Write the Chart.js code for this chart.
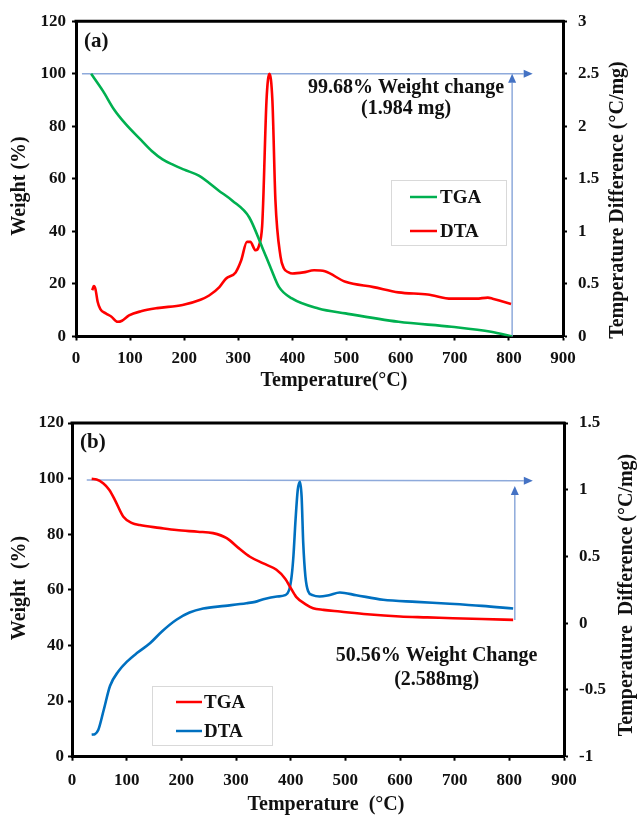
<!DOCTYPE html>
<html>
<head>
<meta charset="utf-8">
<script src="https://cdn.jsdelivr.net/npm/chart.js@4.4.1/dist/chart.umd.min.js"></script>
<style>
  body { margin: 0; background: #fff; width: 637px; height: 817px; overflow: hidden; }
  canvas { position: absolute; left: 0; }
  #chartA { top: 0; }
  #chartB { top: 400px; }
</style>
</head>
<body>
<canvas id="chartA" width="637" height="400"></canvas>
<canvas id="chartB" width="637" height="417"></canvas>
<script>
// axis ranges [min, max, step]
const tempRange = [0, 900, 100];
const weightRange = [0, 120, 20];
const dtaRangeA = [0, 3, 0.5];
const dtaRangeB = [-1, 1.5, 0.5];

// ---- panel (a) ----
const tempA_tga = [28, 50, 70, 92, 120, 140, 160, 180, 200, 227, 264, 289, 320, 344, 360, 375, 399, 448, 498, 596, 694, 767, 806];
const weightA = [100, 93.4, 86.5, 80.8, 74.8, 70.6, 67.4, 65.3, 63.5, 61.2, 55.5, 51.7, 45.4, 34, 26, 18.9, 14.5, 10.7, 8.8, 5.6, 3.7, 1.8, 0];

const tempA_dta = [30, 33, 36, 40, 45, 55, 65, 77, 85, 98, 120, 150, 197, 230, 246, 265, 277, 295, 305, 316, 322, 332, 338, 344,
  346, 352, 357.5, 363, 368.5, 378, 384, 393, 400, 420, 440, 460, 498, 550, 596, 650, 694, 740, 761, 770, 790, 804];
const dtaA = [0.44, 0.48, 0.45, 0.33, 0.26, 0.22, 0.19, 0.14, 0.15, 0.2, 0.24, 0.27, 0.3, 0.35, 0.39, 0.47, 0.55, 0.61, 0.72, 0.9, 0.9, 0.82, 0.86, 1.05,
  1.29, 2.24, 2.5, 2.24, 1.3, 0.76, 0.65, 0.61, 0.6, 0.61, 0.63, 0.62, 0.52, 0.47, 0.42, 0.4, 0.36, 0.36, 0.37, 0.36, 0.33, 0.31];

// ---- panel (b) ----
const tempB_tga = [36, 45, 57, 68, 78.6, 94, 110, 124, 160, 191, 230, 258, 283, 305, 325.5, 350, 374, 390, 398.5, 410, 429, 441, 460, 490, 540, 600, 650, 697, 750, 807];
const weightB = [99.9, 99.7, 98.3, 96, 92.3, 86.3, 84, 83.3, 82.3, 81.5, 80.9, 80.4, 78.6, 75, 71.9, 69.5, 67.2, 64, 61.2, 57.5, 54.6, 53.4, 52.8, 52.2, 51.2, 50.4, 50.1, 49.8, 49.5, 49.2];

const tempB_dta = [36, 42, 48, 58, 69.5, 85, 100, 120, 142.6, 165, 191, 215, 240, 280, 319, 335, 350, 375, 390, 398, 402, 405, 409, 413, 417,
  420, 423, 427, 432, 440, 453, 470, 490, 520, 569, 630, 691, 750, 807];
const dtaB = [-0.835, -0.83, -0.8, -0.65, -0.47, -0.36, -0.29, -0.22, -0.15, -0.06, 0.026, 0.08, 0.11, 0.13, 0.15, 0.16, 0.18, 0.2, 0.21, 0.26, 0.36, 0.5, 0.78, 1.0, 1.06,
  0.95, 0.6, 0.35, 0.24, 0.21, 0.2, 0.21, 0.23, 0.21, 0.176, 0.16, 0.146, 0.13, 0.11];

// weight-change markers, [x1, y1, x2, y2] in temperature / weight units
const arrowsA = [[11, 100, 844, 100], [806, 0, 806, 100]];
const arrowsB = [[27, 99.5, 843, 99.2], [810, 49.2, 810, 97.3]];

// notes, [text, temperature, weight]
const notesA = [["99.68% Weight change", 610, 94.6], ["(1.984 mg)", 610, 86.6]];
const notesB = [["50.56% Weight Change", 667, 36.2], ["(2.588mg)", 667, 27.6]];

const SERIF = "'Liberation Serif', 'Times New Roman', serif";
const INK = "#111";

const toPoints = (xs, ys) => xs.map((x, i) => ({ x: x, y: ys[i] }));
const tickLabel = (v) => String(Math.round(v * 10) / 10);

// draws the frame top, arrows, notes, axis titles, the panel letter and the legend box
const decor = {
  id: "decor",
  beforeDatasetsDraw(chart, args, o) {
    const { ctx } = chart;
    const sx = chart.scales.x, sy = chart.scales.y;
    ctx.save();
    o.arrows.forEach(([x1, y1, x2, y2]) => {
      const px1 = sx.getPixelForValue(x1), py1 = sy.getPixelForValue(y1);
      const px2 = sx.getPixelForValue(x2), py2 = sy.getPixelForValue(y2);
      const ang = Math.atan2(py2 - py1, px2 - px1);
      const hl = 9, hw = 4;
      const bx = px2 - hl * Math.cos(ang), by = py2 - hl * Math.sin(ang);
      ctx.strokeStyle = "#8eaadb";
      ctx.lineWidth = 1.5;
      ctx.beginPath();
      ctx.moveTo(px1, py1);
      ctx.lineTo(bx, by);
      ctx.stroke();
      ctx.fillStyle = "#4472c4";
      ctx.beginPath();
      ctx.moveTo(px2, py2);
      ctx.lineTo(bx + hw * Math.sin(ang), by - hw * Math.cos(ang));
      ctx.lineTo(bx - hw * Math.sin(ang), by + hw * Math.cos(ang));
      ctx.closePath();
      ctx.fill();
    });
    ctx.restore();
  },
  afterDraw(chart, args, o) {
    const { ctx, chartArea: ca } = chart;
    const sx = chart.scales.x, sy = chart.scales.y;
    ctx.save();
    // top edge of the box
    ctx.strokeStyle = "#000";
    ctx.lineWidth = 3;
    ctx.beginPath();
    ctx.moveTo(ca.left - 1.5, ca.top);
    ctx.lineTo(ca.right + 1.5, ca.top);
    ctx.stroke();

    ctx.fillStyle = INK;
    ctx.textBaseline = "middle";
    // panel letter
    ctx.font = "bold 21px " + SERIF;
    ctx.textAlign = "left";
    ctx.fillText(o.panel, ca.left + 8, ca.top + 20);
    // notes
    ctx.font = "bold 20px " + SERIF;
    ctx.textAlign = "center";
    o.notes.forEach(([t, x, y]) => {
      ctx.fillText(t, sx.getPixelForValue(x), sy.getPixelForValue(y));
    });
    // axis titles
    ctx.font = "bold 20px " + SERIF;
    const T = o.titles;
    ctx.fillText(T.x[0], T.x[1], T.x[2]);
    [T.left, T.right].forEach(([t, x, y]) => {
      ctx.save();
      ctx.translate(x, y);
      ctx.rotate(-Math.PI / 2);
      ctx.fillText(t, 0, 0);
      ctx.restore();
    });
    // legend
    const L = o.legend;
    ctx.fillStyle = "#fff";
    ctx.fillRect(L.x, L.y, L.w, L.h);
    ctx.strokeStyle = "#d9d9d9";
    ctx.lineWidth = 1;
    ctx.strokeRect(L.x + 0.5, L.y + 0.5, L.w, L.h);
    ctx.font = "bold 19px " + SERIF;
    ctx.textAlign = "left";
    chart.data.datasets.forEach((ds, i) => {
      const ry = L.rows[i];
      ctx.strokeStyle = ds.borderColor;
      ctx.lineWidth = 2.5;
      ctx.beginPath();
      ctx.moveTo(L.line[0], ry);
      ctx.lineTo(L.line[1], ry);
      ctx.stroke();
      ctx.fillStyle = INK;
      ctx.fillText(ds.label, L.textX, ry + 1);
    });
    ctx.restore();
  }
};

function makeScales(s) {
  const tickFont = { family: SERIF, size: 17, weight: "bold" };
  const grid = { display: true, drawOnChartArea: false, tickLength: 4, tickWidth: 2, tickColor: "#000" };
  const border = { display: true, width: 3, color: "#000" };
  return {
    x: {
      type: "linear", position: "bottom",
      min: tempRange[0], max: tempRange[1],
      ticks: { stepSize: tempRange[2], font: tickFont, color: INK, padding: s.xPad, maxRotation: 0 },
      grid: grid, border: border,
      afterFit: (sc) => { sc.height = s.xHeight; }
    },
    y: {
      position: "left",
      min: weightRange[0], max: weightRange[1],
      ticks: { stepSize: weightRange[2], font: tickFont, color: INK, padding: s.yPad },
      grid: grid, border: border,
      afterFit: (sc) => { sc.width = s.yWidth; }
    },
    y1: {
      position: "right",
      min: s.dtaRange[0], max: s.dtaRange[1],
      ticks: { stepSize: s.dtaRange[2], font: tickFont, color: INK, padding: 11, callback: tickLabel },
      grid: grid, border: border,
      afterFit: (sc) => { sc.width = s.y1Width; }
    }
  };
}

function lineSet(label, xs, ys, color, axis) {
  return {
    label: label,
    data: toPoints(xs, ys),
    borderColor: color,
    backgroundColor: color,
    borderWidth: 2.6,
    pointRadius: 0,
    fill: false,
    cubicInterpolationMode: "monotone",
    yAxisID: axis
  };
}

new Chart(document.getElementById("chartA"), {
  type: "line",
  data: {
    datasets: [
      lineSet("TGA", tempA_tga, weightA, "#00b050", "y"),
      lineSet("DTA", tempA_dta, dtaA, "#ff0000", "y1")
    ]
  },
  options: {
    responsive: false,
    animation: false,
    layout: { padding: { top: 20, left: 0, right: 0, bottom: 0 } },
    plugins: {
      legend: { display: false },
      tooltip: { enabled: false },
      decor: {
        panel: "(a)",
        arrows: arrowsA,
        notes: notesA,
        titles: {
          x: ["Temperature(°C)", 334, 381],
          left: ["Weight (%)", 20, 186],
          right: ["Temperature Difference (°C/mg)", 618, 200]
        },
        legend: { x: 391, y: 180, w: 115, h: 65, rows: [197, 231], line: [410, 437], textX: 440 }
      }
    },
    scales: makeScales({
      xPad: 8, xHeight: 63.5,
      yPad: 6, yWidth: 76, y1Width: 74, dtaRange: dtaRangeA
    })
  },
  plugins: [decor]
});

new Chart(document.getElementById("chartB"), {
  type: "line",
  data: {
    datasets: [
      lineSet("TGA", tempB_tga, weightB, "#ff0000", "y"),
      lineSet("DTA", tempB_dta, dtaB, "#0070c0", "y1")
    ]
  },
  options: {
    responsive: false,
    animation: false,
    layout: { padding: { top: 23, left: 0, right: 0, bottom: 0 } },
    plugins: {
      legend: { display: false },
      tooltip: { enabled: false },
      decor: {
        panel: "(b)",
        arrows: arrowsB,
        notes: notesB,
        titles: {
          x: ["Temperature  (°C)", 326, 405],
          left: ["Weight  (%)", 20, 188],
          right: ["Temperature  Difference (°C/mg)", 627, 195]
        },
        legend: { x: 152, y: 286, w: 120, h: 59, rows: [302, 331], line: [176, 202], textX: 204 }
      }
    },
    scales: makeScales({
      xPad: 10, xHeight: 60.3,
      yPad: 4, yWidth: 72, y1Width: 73, dtaRange: dtaRangeB
    })
  },
  plugins: [decor]
});
</script>
</body>
</html>
